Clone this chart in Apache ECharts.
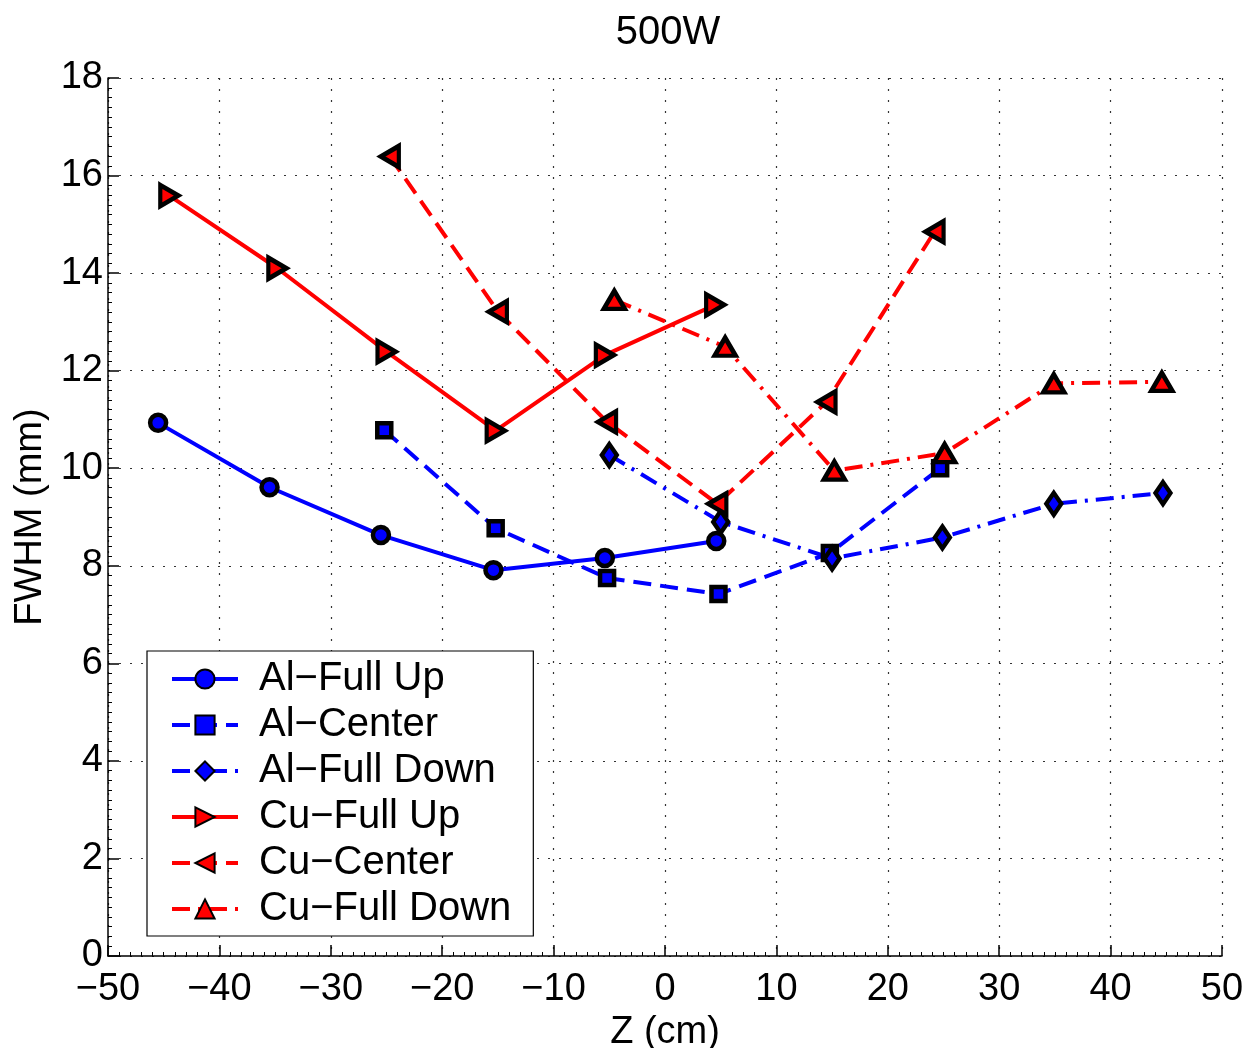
<!DOCTYPE html>
<html>
<head>
<meta charset="utf-8">
<script src="https://cdn.jsdelivr.net/npm/echarts@6/dist/echarts.min.js"></script>
<style>
  html, body { margin: 0; padding: 0; background: #fff; }
  #chart { width: 1248px; height: 1048px; }
</style>
</head>
<body>
<div id="chart"></div>
<script>
// FWHM vs Z at 500 W, Al and Cu targets, three probe positions each
const seriesNames = ['Al\u2212Full Up', 'Al\u2212Center', 'Al\u2212Full Down',
                     'Cu\u2212Full Up', 'Cu\u2212Center', 'Cu\u2212Full Down'];

const zAlFullUp     = [-45.5, -35.5, -25.5, -15.4, -5.4, 4.6];
const fwhmAlFullUp  = [10.93, 9.61, 8.63, 7.91, 8.16, 8.51];

const zAlCenter     = [-25.2, -15.2, -5.2, 4.8, 14.8, 24.7];
const fwhmAlCenter  = [10.78, 8.77, 7.75, 7.42, 8.26, 10.0];

const zAlFullDown    = [-5.0, 5.0, 15.0, 24.9, 34.9, 44.7];
const fwhmAlFullDown = [10.27, 8.90, 8.15, 8.58, 9.27, 9.49];

const zCuFullUp     = [-44.5, -34.8, -25.0, -15.2, -5.4, 4.5];
const fwhmCuFullUp  = [15.59, 14.10, 12.39, 10.77, 12.32, 13.35];

const zCuCenter     = [-24.7, -15.0, -5.2, 4.7, 14.5, 24.2];
const fwhmCuCenter  = [16.39, 13.21, 10.95, 9.27, 11.36, 14.85];

const zCuFullDown    = [-4.55, 5.4, 15.2, 25.1, 34.9, 44.6];
const fwhmCuFullDown = [13.45, 12.49, 9.95, 10.31, 11.74, 11.77];

const xTicks = { min: -50, max: 50, step: 10 };
const yTicks = { min: 0, max: 18, step: 2 };

const FONT = '"Liberation Sans", Arial, Helvetica, sans-serif';
const BLUE = '#0000ff';
const RED = '#ff0000';
const DASHED = [18, 9];
const DASHDOT = [18, 8, 3, 8];
const LINE_W = 4;

const TRI_RIGHT = 'path://M0,0L10,6L0,12Z';
const TRI_LEFT = 'path://M10,0L0,6L10,12Z';

function pairs(xs, ys) { return xs.map((x, i) => [x, ys[i]]); }
function fmtTick(v) { return v < 0 ? '\u2212' + Math.abs(v) : String(v); }

function makeSeries(name, xs, ys, color, dash, symbol, size) {
  return {
    name: name,
    type: 'line',
    data: pairs(xs, ys),
    symbol: symbol,
    symbolSize: size,
    showAllSymbol: true,
    lineStyle: { color: color, width: LINE_W, type: dash },
    itemStyle: { color: color, borderColor: '#000', borderWidth: 4.5 },
    emphasis: { disabled: true },
    animation: false
  };
}

const chart = echarts.init(document.getElementById('chart'), null, { renderer: 'canvas' });

chart.setOption({
  backgroundColor: '#fff',
  animation: false,
  title: {
    text: '500W',
    left: 663,
    textAlign: 'center',
    top: 8,
    textStyle: { fontFamily: FONT, fontSize: 40, fontWeight: 'normal', color: '#000' }
  },
  grid: { left: 108, right: 26, top: 78, bottom: 92, containLabel: false, outerBoundsMode: 'none' },
  xAxis: {
    type: 'value',
    min: xTicks.min, max: xTicks.max, interval: xTicks.step,
    name: 'Z (cm)',
    nameLocation: 'middle',
    nameGap: 50,
    nameTextStyle: { fontFamily: FONT, fontSize: 38, color: '#000' },
    axisLine: { show: true, onZero: false, lineStyle: { color: '#000', width: 1.5 } },
    axisTick: { show: true, inside: true, length: 11, lineStyle: { color: '#000', width: 1.5 } },
    minorTick: { show: true, splitNumber: 10, length: 4, lineStyle: { color: '#000', width: 1 } },
    axisLabel: { formatter: fmtTick, fontFamily: FONT, fontSize: 38, color: '#000', margin: 15 },
    splitLine: { show: true, lineStyle: { color: '#333', width: 1.2, type: [2, 9] } }
  },
  yAxis: {
    type: 'value',
    min: yTicks.min, max: yTicks.max, interval: yTicks.step,
    name: 'FWHM (mm)',
    nameLocation: 'middle',
    nameGap: 48,
    nameTextStyle: { fontFamily: FONT, fontSize: 38, color: '#000' },
    axisLine: { show: true, onZero: false, lineStyle: { color: '#000', width: 1.5 } },
    axisTick: { show: true, inside: true, length: 11, lineStyle: { color: '#000', width: 1.5 } },
    minorTick: { show: true, splitNumber: 10, length: 4, lineStyle: { color: '#000', width: 1 } },
    axisLabel: { formatter: fmtTick, fontFamily: FONT, fontSize: 38, color: '#000', margin: 5 },
    splitLine: { show: true, lineStyle: { color: '#333', width: 1.2, type: [2, 9] } }
  },
  legend: {
    orient: 'vertical',
    left: 147,
    top: 651,
    data: seriesNames,
    padding: [8, 22, 7, 23],
    itemWidth: 66,
    itemHeight: 24,
    itemGap: 6,
    backgroundColor: '#fff',
    borderColor: '#000',
    borderWidth: 1.2,
    borderRadius: 0,
    selectedMode: false,
    lineStyle: { width: LINE_W },
    textStyle: { fontFamily: FONT, fontSize: 40, color: '#000', lineHeight: 40, padding: [0, 0, 0, 16] }
  },
  series: [
    makeSeries(seriesNames[0], zAlFullUp, fwhmAlFullUp, BLUE, 'solid', 'circle', 16),
    makeSeries(seriesNames[1], zAlCenter, fwhmAlCenter, BLUE, DASHED, 'rect', 14),
    makeSeries(seriesNames[2], zAlFullDown, fwhmAlFullDown, BLUE, DASHDOT, 'diamond', [15, 22]),
    makeSeries(seriesNames[3], zCuFullUp, fwhmCuFullUp, RED, 'solid', TRI_RIGHT, [18, 21]),
    makeSeries(seriesNames[4], zCuCenter, fwhmCuCenter, RED, DASHED, TRI_LEFT, [18, 21]),
    makeSeries(seriesNames[5], zCuFullDown, fwhmCuFullDown, RED, DASHDOT, 'triangle', [21, 18])
  ]
});
</script>
</body>
</html>
